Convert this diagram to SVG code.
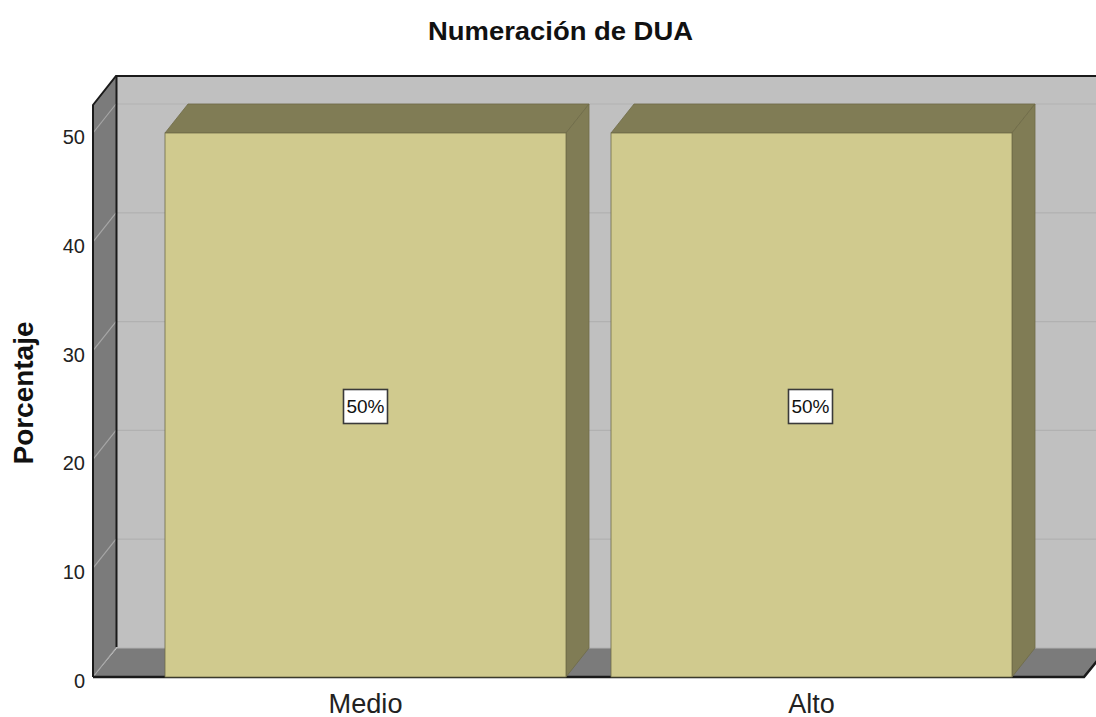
<svg xmlns="http://www.w3.org/2000/svg" width="1096" height="717" viewBox="0 0 1096 717">
<style>
.wall{fill:#c0c0c0}
.side{fill:#7b7b7b}
.grid{stroke:#b1b1b1;stroke-width:1.2;fill:none}
.diag{stroke:#a6a6a6;stroke-width:1.2;fill:none}
.edge{stroke:#1a1a1a;fill:none}
.front{fill:#d0ca8e;stroke:#6e6b48;stroke-width:0.8}
.dark{fill:#807c55;stroke:#6e6b48;stroke-width:0.8}
.tick{font-family:"Liberation Sans",Arial,sans-serif;font-size:20px;fill:#222;text-anchor:end}
.cat{font-family:"Liberation Sans",Arial,sans-serif;font-size:27px;fill:#222;text-anchor:middle}
.lbl{font-family:"Liberation Sans",Arial,sans-serif;font-size:19px;fill:#111;text-anchor:middle}
.box{fill:#ffffff;stroke:#3a3a3a;stroke-width:1.6}
</style>
<rect width="1096" height="717" fill="#ffffff"/>
<text x="560.5" y="40" font-family="'Liberation Sans',Arial,sans-serif" font-size="25" font-weight="bold" text-anchor="middle" fill="#111" textLength="265" lengthAdjust="spacingAndGlyphs">Numeración de DUA</text>
<text transform="translate(33,393) rotate(-90)" font-family="'Liberation Sans',Arial,sans-serif" font-size="27" font-weight="bold" text-anchor="middle" fill="#111" textLength="143" lengthAdjust="spacingAndGlyphs">Porcentaje</text>
<g id="frame">
<polygon class="wall" points="116,76 1110,76 1110,648 116,648"/>
<polygon class="side" points="93,105 116,76 116,648 93,677"/>
<polygon class="side" points="93,677 117,648 1108,648 1084,677"/>
<g id="gridlines">
<line class="grid" x1="116" y1="104" x2="1096" y2="104"/>
<line class="grid" x1="116" y1="212.8" x2="1096" y2="212.8"/>
<line class="grid" x1="116" y1="321.6" x2="1096" y2="321.6"/>
<line class="grid" x1="116" y1="430.4" x2="1096" y2="430.4"/>
<line class="grid" x1="116" y1="539.2" x2="1096" y2="539.2"/>
<line class="grid" x1="116" y1="648" x2="1096" y2="648"/>
<line class="diag" x1="93" y1="133" x2="116" y2="104"/>
<line class="diag" x1="93" y1="241.8" x2="116" y2="212.8"/>
<line class="diag" x1="93" y1="350.6" x2="116" y2="321.6"/>
<line class="diag" x1="93" y1="459.4" x2="116" y2="430.4"/>
<line class="diag" x1="93" y1="568.2" x2="116" y2="539.2"/>
<line class="diag" x1="93" y1="677" x2="116" y2="648"/>
</g>
<polyline class="edge" stroke-width="2" points="93,677 93,105 116,76 1096,76"/>
<line class="edge" stroke-width="2" x1="116.5" y1="76" x2="116.5" y2="647"/>
<polyline class="edge" stroke-width="2.5" points="93,677 1084,677 1097,661"/>
</g>
<g id="ticks">
<text class="tick" x="85" y="688">0</text>
<text class="tick" x="85" y="579">10</text>
<text class="tick" x="85" y="470">20</text>
<text class="tick" x="85" y="361.5">30</text>
<text class="tick" x="85" y="253">40</text>
<text class="tick" x="85" y="144">50</text>
</g>
<g id="bar-medio">
<polygon class="dark" points="165,133 188,104 589,104 566,133"/>
<polygon class="dark" points="566,133 589,104 589,648 566,677"/>
<rect class="front" x="165" y="133" width="401" height="544"/>
<rect class="box" x="343.5" y="389.5" width="44" height="34"/>
<text class="lbl" x="365.5" y="413">50%</text>
</g>
<g id="bar-alto">
<polygon class="dark" points="611,133 634,104 1035,104 1012,133"/>
<polygon class="dark" points="1012,133 1035,104 1035,648 1012,677"/>
<rect class="front" x="611" y="133" width="401" height="544"/>
<rect class="box" x="788.5" y="389.5" width="44" height="34"/>
<text class="lbl" x="810.5" y="413">50%</text>
</g>
<g id="categories">
<text class="cat" x="365.5" y="713" textLength="74" lengthAdjust="spacingAndGlyphs">Medio</text>
<text class="cat" x="811.5" y="713">Alto</text>
</g>
<g id="connectors"></g>
</svg>
